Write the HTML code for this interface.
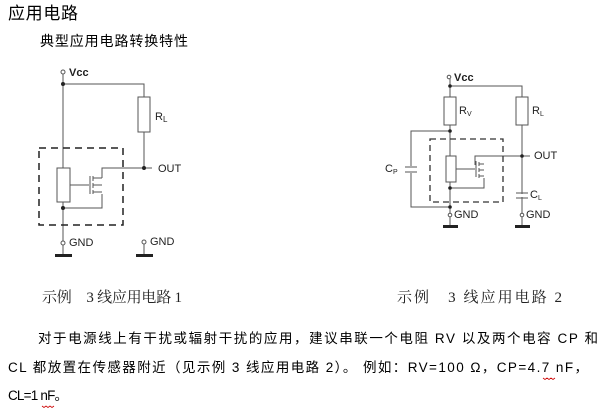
<!DOCTYPE html>
<html><head><meta charset="utf-8"><style>
html,body{margin:0;padding:0;background:#fff;}
svg{display:block}
.cj{font-family:"Liberation Sans","Noto Sans CJK SC",sans-serif;}
.sf{font-family:"Liberation Serif","Noto Serif CJK SC",serif;}
.lb{font-family:"Liberation Sans",sans-serif;font-size:11px;fill:#222}
</style></head><body>
<svg width="604" height="411" viewBox="0 0 604 411" xmlns="http://www.w3.org/2000/svg">
<text class="cj" x="8" y="19" font-size="17" textLength="70" fill="#000">应用电路</text>
<text class="cj" x="40" y="46" font-size="14" textLength="148" fill="#000">典型应用电路转换特性</text>

<g stroke="#555" stroke-width="1" fill="none">
<circle cx="63" cy="72" r="2" fill="#fff"/>
<path d="M63 74V243M63 84H144V97M144 132V168H102V178M70 185H89M63 208H102V194"/>
<rect x="138" y="97" width="12" height="35" fill="#fff"/>
<rect x="57" y="168" width="13" height="34" fill="#fff"/>
<path d="M90 176V194M93 176V181M93 183V188M93 190V194M93 178H102M93 192H102M93 185H102" />
<path d="M144 168H152"/>
<rect x="39" y="148" width="84" height="77" stroke="#222" stroke-width="1.5" stroke-dasharray="7,5"/>
<circle cx="63" cy="243" r="2" fill="#fff"/>
<circle cx="144" cy="242" r="2" fill="#fff"/>
<path d="M63 245V255M144 244V255"/>
</g>
<g fill="#222">
<circle cx="63" cy="84" r="2"/><circle cx="144" cy="168" r="2"/><circle cx="63" cy="208" r="2"/>
<rect x="55" y="254" width="17" height="3"/><rect x="136" y="254" width="17" height="3"/>
</g>
<text class="lb" x="69" y="76" font-size="13" font-weight="bold">Vcc</text>
<text class="lb" x="155" y="120" font-size="12">R<tspan font-size="8" dy="2">L</tspan></text>
<text class="lb" x="158" y="172" font-size="11.5">OUT</text>
<text class="lb" x="69" y="246" font-size="11.5">GND</text>
<text class="lb" x="150" y="245" font-size="11.5">GND</text>

<g stroke="#555" stroke-width="1" fill="none">
<circle cx="449" cy="77" r="1.8" fill="#fff"/>
<path d="M450 79V215M450 86H522V215M450 131H411V166M411 173V207H450M456 169H475M450 188H484V178M522 156H475V165M522 156H530"/>
<path d="M405 167H417M405 172H417M516 193H528M516 198H528"/>
<rect x="444" y="97" width="12" height="28" fill="#fff"/>
<rect x="516" y="97" width="12" height="28" fill="#fff"/>
<rect x="446" y="156" width="10" height="26" fill="#fff"/>
<path d="M476 161V177M479 162V166M479 168V172M479 174V178M479 164H484M479 176H484M479 170H484"/>
<rect x="430" y="139" width="73" height="63" stroke="#333" stroke-width="1.3" stroke-dasharray="6,4"/>
<circle cx="450" cy="215" r="1.8" fill="#fff"/>
<circle cx="522" cy="215" r="1.8" fill="#fff"/>
<path d="M450 217V226M522 217V226"/>
</g>
<g fill="#222">
<circle cx="450" cy="86" r="1.8"/><circle cx="450" cy="131" r="1.8"/><circle cx="450" cy="188" r="1.8"/>
<circle cx="450" cy="207" r="1.8"/><circle cx="522" cy="156" r="1.8"/>
<rect x="443" y="225" width="15" height="3"/><rect x="515" y="225" width="15" height="3"/>
</g>
<rect x="520" y="194" width="4" height="3" fill="#fff"/>
<text class="lb" x="454" y="81" font-size="12" font-weight="bold">Vcc</text>
<text class="lb" x="459" y="114" font-size="10">R<tspan font-size="7" dy="2">V</tspan></text>
<text class="lb" x="532" y="114" font-size="10">R<tspan font-size="7" dy="2">L</tspan></text>
<text class="lb" x="385" y="172" font-size="10">C<tspan font-size="7" dy="2">P</tspan></text>
<text class="lb" x="530" y="198" font-size="10">C<tspan font-size="7" dy="2">L</tspan></text>
<text class="lb" x="534" y="159" font-size="10">OUT</text>
<text class="lb" x="454" y="218" font-size="10">GND</text>
<text class="lb" x="526" y="218" font-size="10">GND</text>

<text class="sf" x="42" y="302" font-size="15" fill="#222" textLength="140">示例　3 线应用电路 1</text>
<text class="sf" x="397" y="302" font-size="15" fill="#222" textLength="165">示例　3 线应用电路 2</text>

<text class="cj" x="38" y="343" font-size="13.5" fill="#000" textLength="560">对于电源线上有干扰或辐射干扰的应用，建议串联一个电阻 RV 以及两个电容 CP 和</text>
<text class="cj" x="8" y="372" font-size="13.5" fill="#000" textLength="580">CL 都放置在传感器附近（见示例 3 线应用电路 2）。 例如：RV=100 Ω，CP=4.7 nF，</text>
<text class="cj" x="8" y="400" font-size="13.5" fill="#000" textLength="60">CL=1 nF。</text>
<path d="M543 378l2 1.5 2-1.5 2 1.5 2-1.5 2 1.5 2-1.5M42 406l2 1.5 2-1.5 2 1.5 2-1.5 2 1.5 2-1.5" stroke="#c00" stroke-width="0.8" fill="none"/>
</svg>
</body></html>
